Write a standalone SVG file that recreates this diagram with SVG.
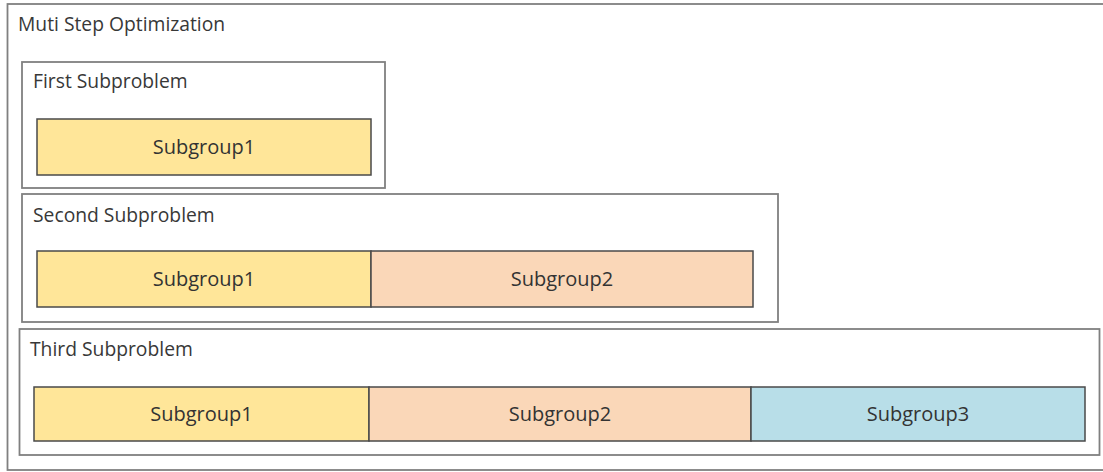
<svg xmlns="http://www.w3.org/2000/svg" width="1103" height="472" viewBox="0 0 1103 472">
  <style>
    .frame { fill: #ffffff; stroke: #808080; stroke-width: 1.8; }
    .cell { stroke: #4a4a4a; stroke-width: 1.5; }
    .sg1 { fill: #ffe699; }
    .sg2 { fill: #fad7b8; }
    .sg3 { fill: #b8dee8; }
    .title { font-family: "Open Sans", "Liberation Sans", sans-serif; font-size: 19.3px; fill: #383838; }
    .label { font-family: "Open Sans", "Liberation Sans", sans-serif; font-size: 20px; fill: #333333; text-anchor: middle; }
  </style>

  <!-- outer container (right edge runs past the canvas) -->
  <g id="multi-step-optimization">
    <rect class="frame" x="7.5" y="4" width="1110" height="466"/>
    <text class="title" x="18" y="31">Muti Step Optimization</text>
  </g>

  <!-- first subproblem -->
  <g id="first-subproblem">
    <rect class="frame" x="22" y="62" width="363" height="126"/>
    <text class="title" x="33" y="88">First Subproblem</text>
    <g id="first-subgroup1">
      <rect class="cell sg1" x="37" y="119" width="334" height="56"/>
      <text class="label" x="204" y="154">Subgroup1</text>
    </g>
  </g>

  <!-- second subproblem -->
  <g id="second-subproblem">
    <rect class="frame" x="22" y="194" width="756" height="128"/>
    <text class="title" x="33" y="222">Second Subproblem</text>
    <g id="second-subgroup1">
      <rect class="cell sg1" x="37" y="251" width="334" height="56"/>
      <text class="label" x="204" y="286">Subgroup1</text>
    </g>
    <g id="second-subgroup2">
      <rect class="cell sg2" x="371" y="251" width="382" height="56"/>
      <text class="label" x="562" y="286">Subgroup2</text>
    </g>
  </g>

  <!-- third subproblem -->
  <g id="third-subproblem">
    <rect class="frame" x="19.5" y="329" width="1080" height="126"/>
    <text class="title" x="30" y="356">Third Subproblem</text>
    <g id="third-subgroup1">
      <rect class="cell sg1" x="34" y="387" width="335" height="54"/>
      <text class="label" x="201.5" y="421">Subgroup1</text>
    </g>
    <g id="third-subgroup2">
      <rect class="cell sg2" x="369" y="387" width="382" height="54"/>
      <text class="label" x="560" y="421">Subgroup2</text>
    </g>
    <g id="third-subgroup3">
      <rect class="cell sg3" x="751" y="387" width="334" height="54"/>
      <text class="label" x="918" y="421">Subgroup3</text>
    </g>
  </g>

  <!-- no connectors in this diagram -->
  <g id="connectors"/>
</svg>
